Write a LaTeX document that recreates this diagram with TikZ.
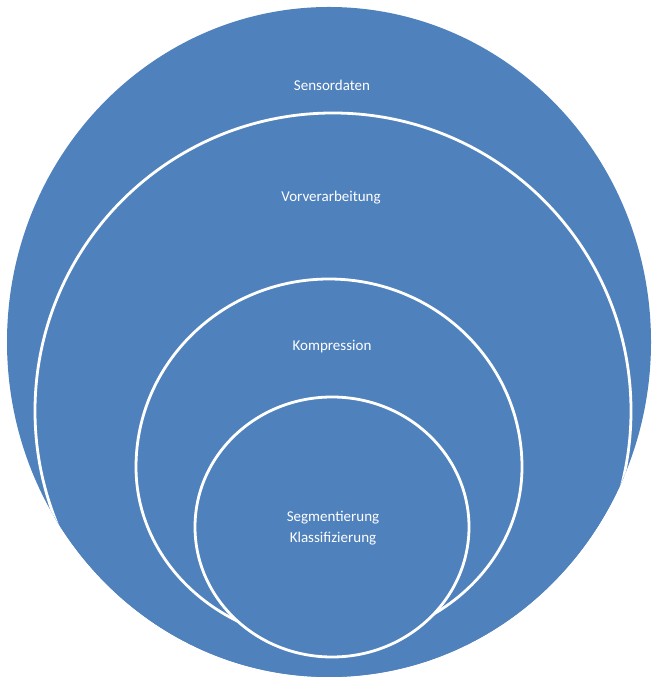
\documentclass[tikz,border=0pt]{standalone}
\usepackage{fontspec}
\setmainfont{Carlito}
\definecolor{ringblue}{HTML}{4F81BD}

\begin{document}
\begin{tikzpicture}[x=1pt, y=1pt,
    ring/.style={fill=ringblue, draw=white, line width=2.8pt},
    lbl/.style={text=white, font=\fontsize{15}{21}\selectfont, align=center}]
  \useasboundingbox (0,0) rectangle (656,679);
  % outer ring
  \fill[ringblue] (329,337) ellipse [x radius=322pt, y radius=335pt];
  \begin{scope}
    \clip (329,337) ellipse [x radius=322pt, y radius=335pt];
    \path[ring] (333,268) circle [radius=298pt];
    % egg shaped: upper and lower half
    \path[ring] (522,212) arc[start angle=0, end angle=180, x radius=193pt, y radius=188pt]
                arc[start angle=180, end angle=360, x radius=193pt, y radius=175pt] -- cycle;
    \path[ring] (332,152) ellipse [x radius=137pt, y radius=130pt];
  \end{scope}
  % labels
  \node[lbl] (sensor) at (332,594) {Sensordaten};
  \node[lbl] (vorv) at (331,481) {Vorverarbeitung};
  \node[lbl] (komp) at (332,332) {Kompression};
  \node[lbl] (segm) at (333,151) {Segmentierung\\Klassifizierung};
\end{tikzpicture}
\end{document}
